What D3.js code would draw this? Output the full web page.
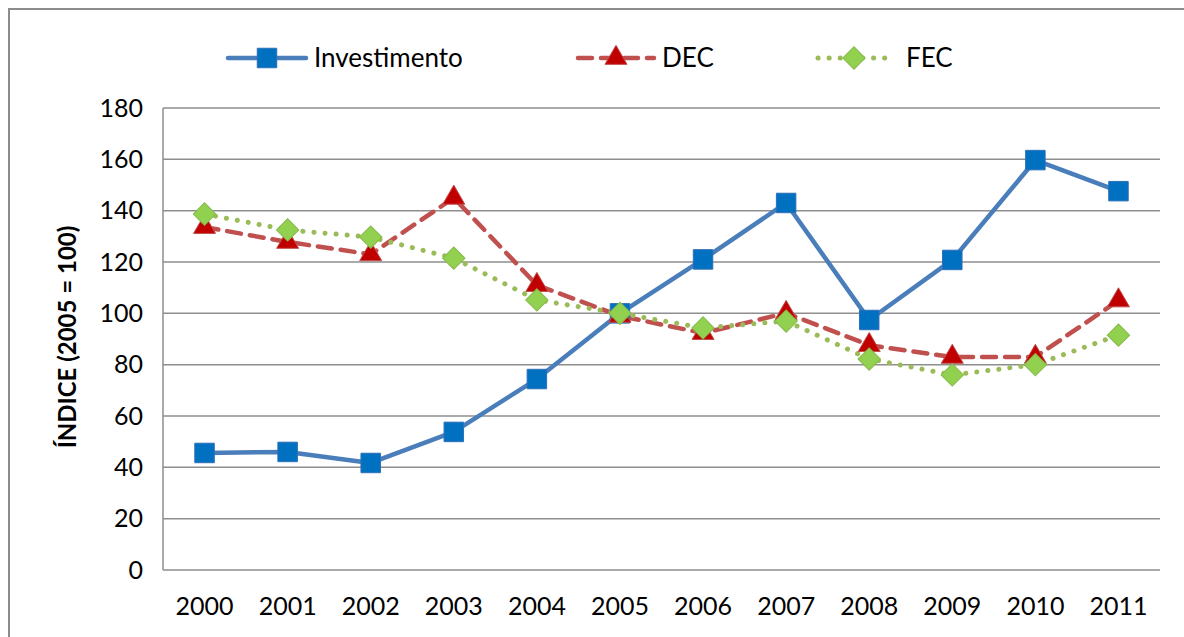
<!doctype html>
<html lang="pt">
<head>
    <meta charset="utf-8" />
    <title>Índice 2005 = 100</title>
    <style>
        body { margin: 0; background: #fff; }
        svg text { font-family: Lato, "Open Sans", sans-serif; fill: #000; }
    </style>
</head>
<body>
    <svg id="chart"></svg>

    <script src="https://cdn.jsdelivr.net/npm/d3@7/dist/d3.min.js"></script>
    <script>
        const years = ["2000", "2001", "2002", "2003", "2004", "2005", "2006", "2007", "2008", "2009", "2010", "2011"];
        const investimento = [45.6, 46, 41.7, 53.8, 74.4, 100, 121, 143, 97.4, 120.8, 159.7, 147.6];
        const dec = [133.6, 127.8, 123, 145, 111, 99, 92.3, 100.1, 87.6, 83, 83, 105];
        const fec = [138.7, 132.5, 129.7, 121.5, 105.2, 100, 94.3, 97, 82.2, 76, 80, 91.5];
        const yTicks = [0, 20, 40, 60, 80, 100, 120, 140, 160, 180];

        const width = 1184, height = 637;
        const margin = {left: 163, right: 24, top: 108, bottom: 67};

        const svg = d3.select("#chart")
            .attr("width", width)
            .attr("height", height);

        // outer chart frame
        svg.append("rect")
            .attr("x", 9).attr("y", 9)
            .attr("width", width + 20).attr("height", height + 20)
            .attr("fill", "none")
            .attr("stroke", "#8c8c8c")
            .attr("stroke-width", 2);

        const x = d3.scaleBand()
            .domain(years)
            .range([margin.left, width - margin.right]);

        const y = d3.scaleLinear()
            .domain([0, 180])
            .range([height - margin.bottom, margin.top]);

        // gridlines
        svg.append("g")
            .attr("stroke", "#8e8e8e")
            .attr("stroke-width", 1.5)
            .selectAll("line")
            .data(yTicks)
            .join("line")
            .attr("x1", margin.left)
            .attr("x2", width - margin.right)
            .attr("y1", d => y(d))
            .attr("y2", d => y(d));

        svg.append("line")
            .attr("x1", margin.left).attr("x2", margin.left)
            .attr("y1", y(0)).attr("y2", y(180))
            .attr("stroke", "#8e8e8e")
            .attr("stroke-width", 1.5);

        // axes (text only)
        const yAxis = svg.append("g")
            .attr("transform", `translate(${margin.left},0)`)
            .call(d3.axisLeft(y).tickValues(yTicks).tickSize(0).tickPadding(20));
        yAxis.select(".domain").remove();
        yAxis.selectAll("text")
            .attr("font-size", 25)
            .attr("font-family", "Lato, sans-serif")
            .attr("fill", "#000");

        const xAxis = svg.append("g")
            .attr("transform", `translate(0,${y(0)})`)
            .call(d3.axisBottom(x).tickSize(0).tickPadding(27));
        xAxis.select(".domain").remove();
        xAxis.selectAll("text")
            .attr("font-size", 25)
            .attr("font-family", "Lato, sans-serif")
            .attr("fill", "#000");

        svg.append("text")
            .attr("transform", `translate(76,${(y(0) + y(180)) / 2 - 2}) rotate(-90)`)
            .attr("text-anchor", "middle")
            .attr("font-size", 24)
            .attr("font-weight", "bold")
            .text("ÍNDICE (2005 = 100)");

        const series = [
            {name: "Investimento", values: investimento, stroke: "#4a7ebb", dash: null, width: 4.5,
                marker: d3.symbolSquare, size: 380, rot: 0, fill: "#0070c0", mstroke: "#2f6fb8", legendX: 228, legendW: 78},
            {name: "DEC", values: dec, stroke: "#c0504d", dash: "14,9", width: 4.5,
                marker: d3.symbolTriangle, size: 210, rot: 0, fill: "#c00000", mstroke: "#c0504d", legendX: 578, legendW: 76},
            {name: "FEC", values: fec, stroke: "#9bbb59", dash: "0.1,11", width: 5,
                marker: d3.symbolSquare, size: 250, rot: 45, fill: "#92d050", mstroke: "#86b94a", legendX: 818, legendW: 72}
        ];

        const line = d3.line()
            .x((d, i) => x(years[i]) + x.bandwidth() / 2)
            .y(d => y(d));

        series.forEach(s => {
            svg.append("path")
                .datum(s.values)
                .attr("fill", "none")
                .attr("stroke", s.stroke)
                .attr("stroke-width", s.width)
                .attr("stroke-linecap", "round")
                .attr("stroke-linejoin", "round")
                .attr("stroke-dasharray", s.dash)
                .attr("d", line);
        });

        series.forEach(s => {
            svg.append("g")
                .selectAll("path")
                .data(s.values)
                .join("path")
                .attr("transform", (d, i) => `translate(${x(years[i]) + x.bandwidth() / 2},${y(d)}) rotate(${s.rot})`)
                .attr("d", d3.symbol(s.marker, s.size))
                .attr("fill", s.fill)
                .attr("stroke", s.mstroke)
                .attr("stroke-width", 1);
        });

        // legend
        const legendY = 58;
        series.forEach(s => {
            const g = svg.append("g");
            g.append("line")
                .attr("x1", s.legendX).attr("x2", s.legendX + s.legendW)
                .attr("y1", legendY).attr("y2", legendY)
                .attr("stroke", s.stroke)
                .attr("stroke-width", s.width)
                .attr("stroke-linecap", "round")
                .attr("stroke-dasharray", s.dash);
            g.append("path")
                .attr("transform", `translate(${s.legendX + s.legendW / 2},${legendY}) rotate(${s.rot})`)
                .attr("d", d3.symbol(s.marker, s.size))
                .attr("fill", s.fill)
                .attr("stroke", s.mstroke)
                .attr("stroke-width", 1);
            g.append("text")
                .attr("x", s.legendX + s.legendW + (s.name === "FEC" ? 16 : 8))
                .attr("y", legendY)
                .attr("dy", "0.35em")
                .attr("font-size", 26)
                .text(s.name);
        });
    </script>
</body>
</html>
